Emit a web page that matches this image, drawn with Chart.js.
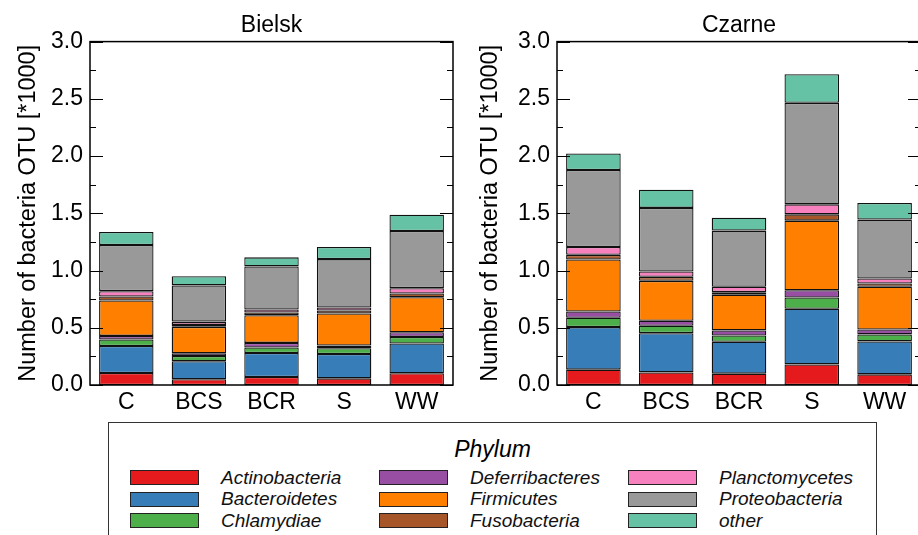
<!DOCTYPE html>
<html>
<head>
<meta charset="utf-8">
<script src="https://cdn.jsdelivr.net/npm/chart.js@4.4.1/dist/chart.umd.min.js"></script>
<style>
  html, body { margin: 0; padding: 0; background: #fff; }
  body { width: 918px; height: 535px; overflow: hidden; position: relative; font-family: 'Liberation Sans', Arial, sans-serif; }
  .box { position: absolute; top: 0; height: 415px; }
  #box_left { left: 0; width: 460px; }
  #box_right { left: 460px; width: 464px; }
  .legend {
    position: absolute; left: 108px; top: 422px; width: 767px; height: 140px;
    border: 1px solid #333; box-sizing: content-box;
  }
  .legend h3 {
    margin: 13px 0 0 0; font-weight: normal; font-style: italic; font-size: 23px;
    line-height: 27px; text-align: center;
  }
  .legend .items {
    display: grid; grid-auto-flow: column; grid-template-rows: repeat(3, 21.5px);
    grid-template-columns: repeat(3, 249px); margin: 4px 0 0 21px;
  }
  .legend .item { display: flex; align-items: center; font-style: italic; font-size: 19px; color: #111; }
  .legend .patch { width: 67px; height: 13px; border: 1px solid #222; margin-right: 22px; }
</style>
</head>
<body>
<div class="box" id="box_left"><canvas id="g_bielsk"></canvas></div>
<div class="box" id="box_right"><canvas id="g_czarne"></canvas></div>
<div class="legend"><h3>Phylum</h3><div class="items" id="legend_items"></div></div>
<script>
const sites = ["C", "BCS", "BCR", "S", "WW"]
const phyla = ["Actinobacteria", "Bacteroidetes", "Chlamydiae", "Deferribacteres", "Firmicutes",
  "Fusobacteria", "Planctomycetes", "Proteobacteria", "other"]
const colors = ["#e41a1c", "#377eb8", "#4daf4a", "#984ea3", "#ff7f00", "#a65628", "#f781bf", "#999999", "#66c2a5"]
const y_ticks = [0, 0.5, 1, 1.5, 2, 2.5, 3]

// OTU counts in thousands, one row per phylum, one value per site
const bielsk = [
  [0.105, 0.050, 0.070, 0.058, 0.102],
  [0.236, 0.157, 0.210, 0.213, 0.260],
  [0.056, 0.047, 0.047, 0.050, 0.058],
  [0.032, 0.023, 0.041, 0.023, 0.041],
  [0.309, 0.231, 0.242, 0.280, 0.306],
  [0.035, 0.017, 0.023, 0.027, 0.033],
  [0.047, 0.029, 0.026, 0.026, 0.046],
  [0.403, 0.316, 0.377, 0.423, 0.499],
  [0.113, 0.081, 0.079, 0.105, 0.142]
]
const czarne = [
  [0.134, 0.110, 0.099, 0.180, 0.093],
  [0.372, 0.343, 0.279, 0.486, 0.288],
  [0.081, 0.064, 0.055, 0.099, 0.061],
  [0.055, 0.044, 0.044, 0.063, 0.043],
  [0.454, 0.349, 0.311, 0.608, 0.373],
  [0.041, 0.035, 0.023, 0.055, 0.029],
  [0.069, 0.046, 0.047, 0.087, 0.043],
  [0.672, 0.556, 0.491, 0.887, 0.515],
  [0.145, 0.159, 0.113, 0.250, 0.145]
]

Chart.defaults.font.family = "'Liberation Sans', Arial, sans-serif"
Chart.defaults.color = "#000"

// ticks inside the frame on both sides, plus the box around the plot
const frame = {
  id: "frame",
  afterDraw(chart) {
    const {ctx, chartArea: a, scales: {y}} = chart
    ctx.save()
    ctx.strokeStyle = "#000"
    ctx.lineWidth = 1
    for (let i = 0; i < y_ticks.length * 2 - 1; i++) {
      const v = i * 0.25
      const py = Math.round(y.getPixelForValue(v)) + 0.5
      const len = i % 2 === 0 ? 13 : 6
      ctx.beginPath()
      ctx.moveTo(a.left, py); ctx.lineTo(a.left + len, py)
      ctx.moveTo(a.right, py); ctx.lineTo(a.right - len, py)
      ctx.stroke()
    }
    ctx.lineWidth = 1.5
    ctx.strokeRect(a.left, a.top, a.right - a.left, a.bottom - a.top)
    ctx.restore()
  }
}

function makeChart(el, title, values, axisWidth, titlePad, padRight) {
  return new Chart(el, {
    type: "bar",
    data: {
      labels: sites,
      datasets: phyla.map((p, i) => ({
        label: p,
        data: values[i],
        backgroundColor: colors[i],
        borderColor: "#111",
        borderWidth: 1.3,
        borderSkipped: false,
        inflateAmount: 0,
        barPercentage: 0.75,
        categoryPercentage: 1
      }))
    },
    options: {
      responsive: true,
      maintainAspectRatio: false,
      animation: false,
      layout: { padding: { right: padRight } },
      plugins: {
        legend: { display: false },
        tooltip: { enabled: false },
        title: {
          display: true,
          fullSize: false,
          text: title,
          font: { size: 23, weight: "normal" },
          padding: { top: 12, bottom: 2 }
        }
      },
      scales: {
        x: {
          stacked: true,
          grid: { display: false, drawTicks: false },
          border: { display: false },
          ticks: { font: { size: 23 }, padding: 4 },
          afterFit: s => { s.height = 30 }
        },
        y: {
          stacked: true,
          min: 0,
          max: 3,
          afterBuildTicks: s => { s.ticks = y_ticks.map(v => ({ value: v })) },
          grid: { display: false, drawTicks: false },
          border: { display: false },
          ticks: { font: { size: 23 }, padding: 7, callback: v => v.toFixed(1) },
          title: {
            display: true,
            text: "Number of bacteria OTU [*1000]",
            font: { size: 23.5 },
            padding: { top: titlePad, bottom: 0 }
          },
          afterFit: s => { s.width = axisWidth }
        }
      }
    },
    plugins: [frame]
  })
}

makeChart(document.getElementById("g_bielsk"), "Bielsk", bielsk, 90, 14, 7)
makeChart(document.getElementById("g_czarne"), "Czarne", czarne, 97, 16, 3)

const legend_items = document.getElementById("legend_items")
phyla.forEach((p, i) => {
  const item = document.createElement("div")
  item.className = "item"
  item.innerHTML = '<span class="patch" style="background:' + colors[i] + '"></span>' + p
  legend_items.appendChild(item)
})
</script>
</body>
</html>
